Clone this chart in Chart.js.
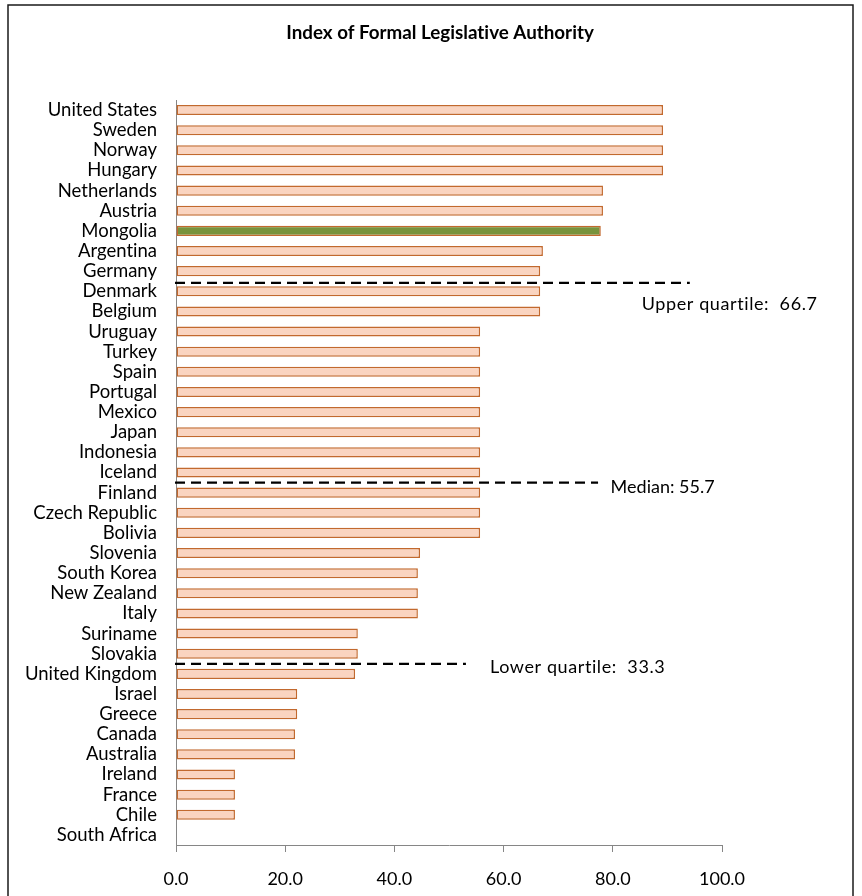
<!DOCTYPE html>
<html>
<head>
<meta charset="utf-8">
<script src="https://cdn.jsdelivr.net/npm/chart.js@4/dist/chart.umd.min.js"></script>
<style>
  html, body { margin: 0; padding: 0; background: #fff; }
  #wrap { position: relative; width: 862px; height: 896px; }
</style>
</head>
<body>
<div id="wrap"><canvas id="chart" width="862" height="896"></canvas></div>
<script>
// Countries, top to bottom
const countries = [
  "United States", "Sweden", "Norway", "Hungary", "Netherlands", "Austria",
  "Mongolia", "Argentina", "Germany", "Denmark", "Belgium", "Uruguay",
  "Turkey", "Spain", "Portugal", "Mexico", "Japan", "Indonesia", "Iceland",
  "Finland", "Czech Republic", "Bolivia", "Slovenia", "South Korea",
  "New Zealand", "Italy", "Suriname", "Slovakia", "United Kingdom", "Israel",
  "Greece", "Canada", "Australia", "Ireland", "France", "Chile", "South Africa"
];

// Index of formal legislative authority per country
const authority = [
  89.2, 89.2, 89.2, 89.2, 78.2, 78.2,
  77.8, 67.2, 66.7, 66.7, 66.7, 55.7,
  55.7, 55.7, 55.7, 55.7, 55.7, 55.7, 55.7,
  55.7, 55.7, 55.7, 44.7, 44.3,
  44.3, 44.3, 33.3, 33.3, 32.8, 22.2,
  22.2, 21.8, 21.8, 10.8, 10.8, 10.8, 0
];

const highlighted = "Mongolia";

const chartTitle = "Index of Formal Legislative Authority";

// Reference statistics shown as dashed markers
const statNames = ["Upper quartile:  66.7", "Median: 55.7", "Lower quartile:  33.3"];
const statValues = [66.7, 55.7, 33.3];

const xTicks = [0, 20, 40, 60, 80, 100];

const FONT = "Lato, 'Open Sans', sans-serif";

// Lato joins "ti" into a ligature; a zero-width non-joiner keeps the letters apart
const noLig = s => String(s).replace(/ti/g, "t\u200Ci");

// Marker layout: gap position between categories, line end, label anchor and tracking
const markerLayout = [
  { gap: 8.58, lineEnd: 94.1, labelX: 85.3, labelY: 9.63, tracking: "0.6px" },
  { gap: 18.5, lineEnd: 77.3, labelX: 79.6, labelY: 18.72, tracking: "0px" },
  { gap: 27.5, lineEnd: 53.1, labelX: 57.5, labelY: 27.66, tracking: "0.6px" }
];

const framePlugin = {
  id: "frame",
  beforeDraw(chart) {
    const ctx = chart.ctx;
    ctx.save();
    ctx.strokeStyle = "#1a1a1a";
    ctx.lineWidth = 1.5;
    ctx.strokeRect(8, 5, 845, 1000);
    ctx.fillStyle = "#000";
    ctx.font = "bold 18.8px " + FONT;
    ctx.textAlign = "center";
    ctx.textBaseline = "middle";
    ctx.fillText(noLig(chartTitle), 440, 33);
    ctx.restore();
  }
};

const markerPlugin = {
  id: "markers",
  afterDatasetsDraw(chart) {
    const ctx = chart.ctx;
    const xs = chart.scales.x, ys = chart.scales.y;
    statValues.forEach((v, i) => {
      const m = markerLayout[i];
      const y = ys.getPixelForValue(m.gap);
      ctx.save();
      ctx.beginPath();
      ctx.setLineDash([10, 6]);
      ctx.lineWidth = 2.2;
      ctx.strokeStyle = "#000";
      ctx.moveTo(xs.getPixelForValue(0) - 1, y);
      ctx.lineTo(xs.getPixelForValue(m.lineEnd), y);
      ctx.stroke();
      ctx.setLineDash([]);
      ctx.fillStyle = "#000";
      ctx.font = "18px " + FONT;
      ctx.letterSpacing = m.tracking;
      ctx.textAlign = "left";
      ctx.textBaseline = "middle";
      ctx.fillText(noLig(statNames[i]), xs.getPixelForValue(m.labelX), ys.getPixelForValue(m.labelY));
      ctx.restore();
    });
  }
};

new Chart(document.getElementById("chart"), {
  type: "bar",
  data: {
    labels: countries,
    datasets: [{
      data: authority,
      backgroundColor: countries.map(c => c === highlighted ? "#77933C" : "#FAD4C0"),
      borderColor: "#C2692E",
      borderWidth: 1.5,
      borderSkipped: false,
      categoryPercentage: 1,
      barPercentage: 0.5
    }]
  },
  options: {
    indexAxis: "y",
    responsive: false,
    animation: false,
    devicePixelRatio: 1,
    layout: { padding: { left: 0, right: 140, top: 100, bottom: 0 } },
    plugins: {
      legend: { display: false },
      tooltip: { enabled: false },
      title: { display: false }
    },
    scales: {
      x: {
        min: 0,
        max: 100,
        afterBuildTicks(scale) { scale.ticks = xTicks.map(v => ({ value: v })); },
        afterFit(scale) { scale.height = 51; },
        grid: { drawOnChartArea: false, drawTicks: true, tickLength: 7, color: "#868686" },
        border: { color: "#868686", width: 1 },
        ticks: {
          color: "#000",
          padding: 16,
          maxRotation: 0,
          font: { family: FONT, size: 18 },
          callback: v => Number(v).toFixed(1)
        }
      },
      y: {
        afterFit(scale) { scale.width = 176; },
        grid: { display: false, drawTicks: false },
        border: { color: "#868686", width: 1 },
        ticks: {
          color: "#000",
          padding: 19,
          autoSkip: false,
          font: { family: FONT, size: 18.5 },
          callback(v) { return noLig(this.getLabelForValue(v)); }
        }
      }
    }
  },
  plugins: [framePlugin, markerPlugin]
});
</script>
</body>
</html>
